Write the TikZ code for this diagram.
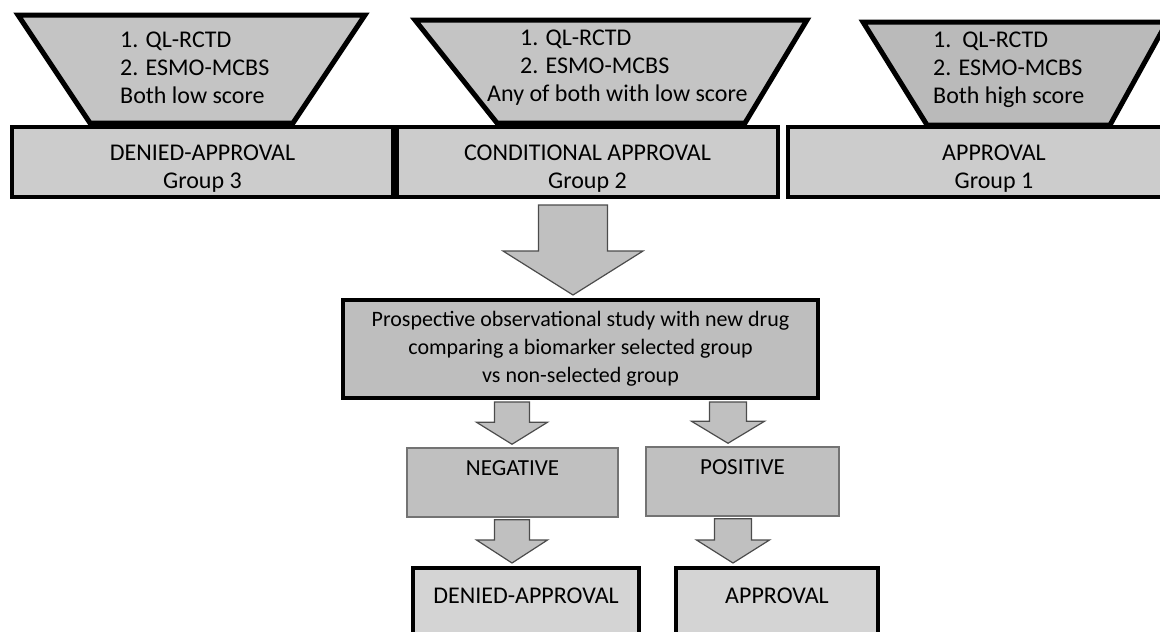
\documentclass[tikz,border=0pt]{standalone}
\usepackage{fontspec}
\setmainfont{Carlito}
\usetikzlibrary{calc}

\definecolor{trapgray}{RGB}{196,196,196}
\definecolor{trapdark}{RGB}{186,186,186}
\definecolor{boxgray}{RGB}{204,204,204}
\definecolor{studygray}{RGB}{190,190,190}
\definecolor{resultgray}{RGB}{192,192,192}
\definecolor{endgray}{RGB}{212,212,212}
\definecolor{arrowgray}{RGB}{192,192,192}

\newcommand{\topstrut}{\rule{0pt}{29pt}}

% block arrow: from, to, centre x, half shaft, half head, head length, top gap
\newcommand{\blockarrow}[7]{%
  \draw[arrowshape] ($(#1.south -| #3,0)+(-#4,#7)$) -- ($(#1.south -| #3,0)+(#4,#7)$)
    -- ($(#2.north -| #3,0)+(#4,-3-#6)$) -- ($(#2.north -| #3,0)+(#5,-3-#6)$)
    -- ($(#2.north -| #3,0)+(0,-3)$) -- ($(#2.north -| #3,0)+(-#5,-3-#6)$)
    -- ($(#2.north -| #3,0)+(-#4,-3-#6)$) -- cycle;}

\begin{document}
\begin{tikzpicture}[x=1pt, y=-1pt,
        every node/.style={font=\fontsize{24pt}{28pt}\selectfont, text=black},
        trapshape/.style={draw=black, line width=5pt, line join=miter, fill=trapgray},
        trapnode/.style={anchor=west, align=left, inner sep=0pt},
        topbox/.style={rectangle, draw=black, line width=4pt, fill=boxgray, align=center},
        studybox/.style={rectangle, draw=black, line width=4pt, fill=studygray, align=center,
            font=\fontsize{22pt}{28pt}\selectfont},
        resultbox/.style={rectangle, draw=black!55, line width=1.5pt, fill=resultgray, align=center,
            font=\fontsize{23pt}{28pt}\selectfont},
        endbox/.style={rectangle, draw=black, line width=4pt, fill=endgray, align=center},
        arrowshape/.style={draw=black!70, line width=1.2pt, fill=arrowgray, line join=miter},
    ]
        \useasboundingbox (0,0) rectangle (1160,632);
        \clip (0,0) rectangle (1160,632);

        %Funnels
        \draw[trapshape] (18,15) -- (365,15) -- (293,123) -- (90,123) -- cycle;
        \draw[trapshape] (415,20) -- (807,20) -- (745,123) -- (497,123) -- cycle;
        \draw[trapshape, fill=trapdark] (863,22) -- (1167,22) -- (1110,125) -- (927,125) -- cycle;

        \node[trapnode] (crit3) at (120,68) {1. QL-RCTD\\2. ESMO-MCBS\\Both low score};
        \node[trapnode] (crit2) at (487,68) {\hspace*{33pt}1. QL-RCTD\\\hspace*{33pt}2. ESMO-MCBS\\Any of both with low score};
        \node[trapnode] (crit1) at (933,70) {1.\ \ QL-RCTD\\2. ESMO-MCBS\\Both high score};

        %Nodes
        \node[topbox, minimum width=381pt, minimum height=70pt] (grp3) at (202.5,162) {\topstrut DENIED-APPROVAL\\Group 3};
        \node[topbox, minimum width=381pt, minimum height=70pt] (grp2) at (587.5,162) {\topstrut CONDITIONAL APPROVAL\\Group 2};
        \node[topbox, minimum width=412pt, minimum height=70pt] (grp1) at (994,162) {\topstrut APPROVAL\\Group 1};

        \node[studybox, minimum width=475pt, minimum height=98pt] (study) at (580.5,349)
            {Prospective observational study with new drug\\comparing a biomarker selected group\\vs non-selected group};

        \node[resultbox, minimum width=211pt, minimum height=69pt] (neg) at (512.5,482.5) {NEGATIVE\\\mbox{}};
        \node[resultbox, minimum width=193pt, minimum height=69pt] (pos) at (742.5,481.5) {POSITIVE\\\mbox{}};

        \node[endbox, minimum width=226pt, minimum height=84pt] (denied) at (526,610) {DENIED-APPROVAL\\\mbox{}};
        \node[endbox, minimum width=202pt, minimum height=84pt] (approved) at (777,610) {APPROVAL\\\mbox{}};

        %Arrows
        \blockarrow{grp2}{study}{573}{34.5}{70}{44}{6}
        \blockarrow{study}{neg}{512}{17.5}{35.5}{22}{2}
        \blockarrow{study}{pos}{728}{18.5}{36.5}{22}{2}
        \blockarrow{neg}{denied}{512}{17.5}{35.5}{23}{2}
        \blockarrow{pos}{approved}{733}{18.5}{36.5}{23}{2}
    \end{tikzpicture}
\end{document}
